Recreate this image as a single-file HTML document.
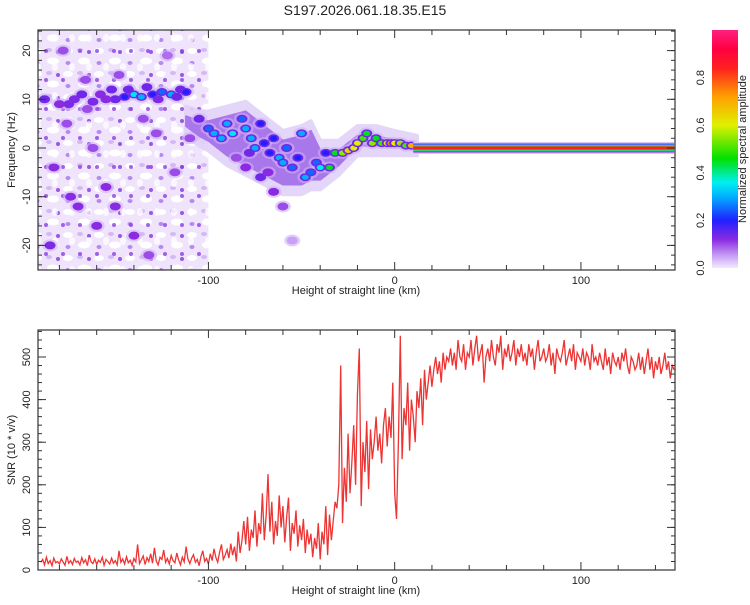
<!DOCTYPE html>
<html><head><meta charset="utf-8"><style>
body{margin:0;background:#fff;width:750px;height:600px;overflow:hidden;font-family:"Liberation Sans",sans-serif}
svg text{font-family:"Liberation Sans",sans-serif;fill:#222}
</style></head><body>
<svg id="c" width="750" height="600" viewBox="0 0 750 600">
<defs>
<pattern id="noise" width="31" height="23" patternUnits="userSpaceOnUse">
<rect width="31" height="23" fill="#efe4fc"/>
<ellipse cx="6" cy="5" rx="5" ry="3" fill="#fff"/><ellipse cx="22" cy="15" rx="6" ry="3.5" fill="#fff"/>
<ellipse cx="18" cy="4" rx="3" ry="2" fill="#d4b8f5"/><ellipse cx="6" cy="17" rx="2.5" ry="2" fill="#b58af0"/>
<ellipse cx="27" cy="6" rx="2" ry="2" fill="#9858e8"/>
</pattern>
<pattern id="noise2" width="17" height="29" patternUnits="userSpaceOnUse">
<ellipse cx="4" cy="9" rx="3" ry="4" fill="#fff" opacity="0.7"/><ellipse cx="12" cy="22" rx="2" ry="2" fill="#8a40e0" opacity="0.8"/>
</pattern>
<linearGradient id="cbar" x1="0" y1="1" x2="0" y2="0">
<stop offset="0" stop-color="#f3eafd"/><stop offset="0.05" stop-color="#c9a0f5"/><stop offset="0.12" stop-color="#8a2be2"/>
<stop offset="0.2" stop-color="#2020ff"/><stop offset="0.3" stop-color="#00b0ff"/><stop offset="0.36" stop-color="#00f0f0"/>
<stop offset="0.46" stop-color="#00e000"/><stop offset="0.6" stop-color="#e0f000"/><stop offset="0.72" stop-color="#ffa000"/>
<stop offset="0.84" stop-color="#ff2020"/><stop offset="0.92" stop-color="#ff0040"/><stop offset="1" stop-color="#ff2080"/>
</linearGradient>
<clipPath id="clipTop"><rect x="38" y="30" width="637" height="240"/></clipPath>
<clipPath id="clipBot"><rect x="38" y="330" width="637" height="240"/></clipPath>
</defs>
<text x="365" y="15" font-size="14" text-anchor="middle">S197.2026.061.18.35.E15</text>
<g id="topPanel"></g>
<g id="botPanel"></g>
<g id="cbPanel"></g>
</svg>
<script>
const NS="http://www.w3.org/2000/svg";
// ---- data ----
const snrStart=-190, snrStep=1;
const snrValues=[18,25,12,30,15,22,10,28,17,20,
14,26,19,11,32,16,22,13,27,18,
21,12,29,17,24,10,35,19,15,26,
13,23,18,30,11,25,20,14,28,16,
22,12,45,18,26,14,31,17,23,11,
27,19,60,15,24,33,13,29,20,38,
16,52,21,12,30,25,47,18,27,14,
34,22,17,40,24,12,30,19,55,26,
15,28,36,18,25,10,32,45,20,27,
14,38,22,50,29,18,42,60,25,35,
48,28,62,35,55,20,90,40,70,115,
60,125,45,95,75,140,55,110,85,180,
70,130,225,90,160,60,115,80,175,100,
150,65,125,170,45,110,85,140,55,105,
70,120,40,95,60,85,30,75,50,110,
25,90,60,150,35,130,70,115,160,145,
200,480,110,240,160,320,180,250,340,200,
410,520,150,300,230,350,190,330,260,300,
360,280,320,250,340,380,290,360,310,440,
180,120,300,550,260,380,340,440,280,400,
360,300,420,380,450,340,470,400,440,480,
430,470,500,460,490,440,510,470,500,490,
520,480,510,470,540,500,490,530,470,510,
500,540,480,520,550,490,510,530,440,500,
520,490,540,500,480,530,510,550,470,520,
500,530,490,510,540,480,520,500,530,490,
510,480,530,500,520,470,510,540,490,500,
520,490,500,530,480,510,460,520,500,490,
510,540,480,500,520,490,530,470,510,500,
490,520,480,510,500,470,530,490,500,480,
510,490,470,520,480,500,460,510,490,480,
500,470,510,490,520,480,460,500,490,470,
480,510,470,500,460,490,520,470,500,450,
490,470,500,460,480,510,470,490,450,480,470];
const blobKm=[-180,-172,-165,-158,-150,-145,-140,-136,-130,-125,-120,-115,-112,-170,-160,-185,-176,-155,-148,-128,-118,-183,-166,-140,-132,-122,-178,-150,-162,-135,-110,-174,
-188,-175,-168,-162,-155,-152,-143,-133,-127,-117,
-105,-100,-97,-93,-90,-87,-82,-80,-77,-75,-72,-70,-67,-65,-62,-60,-58,-55,-52,-50,-48,-45,-42,-40,-37,-35,-32,-28,-25,-22,-20,-17,-15,-12,-10,-7,-4,-2,0,3,6,9,
-85,-80,-72,-65,-60,-55,-78,-68];
const blobHz=[9,10,8,11,10,10.5,11,10.5,11,11.5,11,12,11.5,-12,-16,-20,5,-8,15,3,-5,-4,14,-18,-22,19,20,-12,0,6,2,-10,
10,9,11,9.5,10,12,12,12.5,10,10.5,
6,4,3,2,5,3,6,4,2,0,5,1,-1,2,-2,-3,0,-4,-2,3,-6,-5,-3,-4,-1,-4,-1,-1,-0.5,0,1,2,3,1,2,1,1,1,1,1,0.5,0.5,
-2,-4,-6,-9,-12,-19,-1,-5];
const blobAmp=[0.12,0.13,0.1,0.12,0.15,0.2,0.35,0.3,0.2,0.25,0.3,0.15,0.2,0.12,0.12,0.13,0.1,0.12,0.1,0.1,0.1,0.12,0.1,0.12,0.1,0.08,0.1,0.12,0.1,0.1,0.1,0.12,
0.14,0.13,0.14,0.13,0.12,0.14,0.15,0.15,0.13,0.14,
0.15,0.25,0.3,0.3,0.3,0.35,0.25,0.3,0.3,0.3,0.2,0.2,0.2,0.2,0.3,0.3,0.25,0.25,0.2,0.3,0.3,0.25,0.25,0.35,0.2,0.45,0.45,0.55,0.65,0.6,0.6,0.5,0.45,0.55,0.45,0.5,0.6,0.75,0.6,0.55,0.5,0.7,
0.1,0.12,0.15,0.12,0.1,0.05,0.15,0.12];
const ridgeKm=[-112,-105,-100,-90,-80,-70,-60,-50,-45,-40,-30,-20,-10,0,12];
const ridgeHi=[8,7,7,8,9,6,3,4,5,1,1,4,4,3,2];
const ridgeLo=[3,1,0,-3,-5,-7,-9,-9,-8,-8,-5,-1,-1,-1,-1];
const lineStartKm=10, lineEndKm=150, lineHz=0, lineAmp=0.85;
const xTicks=[-100,0,100];
const hzTicks=[-20,-10,0,10,20];
const snrTicks=[0,100,200,300,400,500];
const cbTicks=[0,0.2,0.4,0.6,0.8];
// ---- scales ----
const X0=-191.5,X1=150.5,PL=38,PR=675;
const xs=v=>PL+(v-X0)/(X1-X0)*(PR-PL);
const yHz=v=>148-v*4.87;
const ySnr=v=>570-v*0.426;
const cbY=v=>268-v*(268-30);
function el(tag,at,parent){const e=document.createElementNS(NS,tag);for(const k in at)e.setAttribute(k,at[k]);parent.appendChild(e);return e;}
const stops=[[0,[243,234,253]],[0.05,[201,160,245]],[0.12,[138,43,226]],[0.2,[32,32,255]],[0.3,[0,176,255]],[0.36,[0,240,240]],[0.46,[0,224,0]],[0.6,[224,240,0]],[0.72,[255,160,0]],[0.84,[255,32,32]],[0.92,[255,0,64]],[1,[255,32,128]]];
function cmap(a){a=Math.max(0,Math.min(1,a));for(let i=1;i<stops.length;i++){if(a<=stops[i][0]){const [p,c0]=stops[i-1],[q,c1]=stops[i];const t=(a-p)/(q-p);return 'rgb('+c0.map((c,j)=>Math.round(c+(c1[j]-c)*t)).join(',')+')';}}return 'rgb(255,32,128)';}
const topG=document.getElementById('topPanel'),botG=document.getElementById('botPanel'),cbG=document.getElementById('cbPanel');
// ---- top panel ----
const tg=el('g',{'clip-path':'url(#clipTop)'},topG);
const nz=el('rect',{x:PL,y:30,width:xs(-100)-PL,height:240,fill:'url(#noise)'},tg);


const nz2=el('rect',{x:PL,y:30,width:xs(-100)-PL,height:240,fill:'url(#noise2)'},tg);


function ridgePath(shrink){let d='';ridgeKm.forEach((k,i)=>{d+=(i?'L':'M')+xs(k)+','+yHz(ridgeHi[i]+(shrink?-1.5:0.5));});
for(let i=ridgeKm.length-1;i>=0;i--)d+='L'+xs(ridgeKm[i])+','+yHz(ridgeLo[i]+(shrink?1.5:-0.5));return d+'Z';}
const h1=el('path',{d:ridgePath(false),fill:'#e2d2f9','stroke':'#e2d2f9','stroke-width':4,'stroke-linejoin':'round',opacity:0.9},tg);


const h2=el('path',{d:ridgePath(true),fill:'#a877ea','stroke':'#a877ea','stroke-width':2,'stroke-linejoin':'round'},tg);


blobKm.forEach((k,i)=>{const e=el('ellipse',{cx:xs(k),cy:yHz(blobHz[i]),rx:8,ry:6,fill:'#cfb0f5',opacity:0.6},tg);

});
blobKm.forEach((k,i)=>{const a=blobAmp[i];
const m=el('ellipse',{cx:xs(k),cy:yHz(blobHz[i]),rx:5.5,ry:4,fill:cmap(Math.min(a,0.14))},tg);


if(a>0.18){const c=el('ellipse',{cx:xs(k),cy:yHz(blobHz[i]),rx:3.5,ry:2.6,fill:cmap(a)},tg);

}});
[[6,'#dcc8f8'],[4.5,'#7a20e0'],[3.5,'#10c0ff'],[2.6,'#40e020'],[1.6,'#ff2020']].forEach(([h,c],i)=>{
const r=el('rect',{x:xs(lineStartKm),y:yHz(lineHz)-h,width:xs(lineEndKm)-xs(lineStartKm),height:2*h,fill:i==4?cmap(lineAmp):c},tg);

});
function frame(g,y0,y1,yticks,yfn,ymin,ymax,ytitle,minorStep){
const f=el('rect',{x:PL,y:y0,width:PR-PL,height:y1-y0,fill:'none',stroke:'#333','stroke-width':1.2},g);


for(let k=-180;k<=150;k+=20){const maj=k%100==0;const x=xs(k);const L=maj?8:5;
el('line',{x1:x,y1:y0,x2:x,y2:y0+L,stroke:'#333'},g);el('line',{x1:x,y1:y1,x2:x,y2:y1-L,stroke:'#333'},g);}
xTicks.forEach(v=>{const t=el('text',{x:xs(v),y:y1+14,'font-size':11,'text-anchor':'middle'},g);t.textContent=v;

});
const xt=el('text',{x:356,y:y1+24,'font-size':11,'text-anchor':'middle'},g);xt.textContent='Height of straight line (km)';


for(let v=ymin;v<=ymax;v+=minorStep){const y=yfn(v);if(y<y0||y>y1)continue;
el('line',{x1:PL,y1:y,x2:PL+4,y2:y,stroke:'#333'},g);el('line',{x1:PR,y1:y,x2:PR-4,y2:y,stroke:'#333'},g);}
yticks.forEach(v=>{const y=yfn(v);el('line',{x1:PL,y1:y,x2:PL+8,y2:y,stroke:'#333'},g);el('line',{x1:PR,y1:y,x2:PR-8,y2:y,stroke:'#333'},g);
const t=el('text',{x:30,y:y,'font-size':11,'text-anchor':'middle',transform:'rotate(-90 30 '+y+')'},g);t.textContent=v;

});
const yt=el('text',{x:15,y:(y0+y1)/2,'font-size':11,'text-anchor':'middle',transform:'rotate(-90 15 '+(y0+y1)/2+')'},g);yt.textContent=ytitle;

}
frame(topG,30,270,hzTicks,yHz,-24,24,'Frequency (Hz)',2);
// ---- bottom panel ----
const bg=el('g',{'clip-path':'url(#clipBot)'},botG);
const pts=snrValues.map((v,i)=>xs(snrStart+i*snrStep).toFixed(1)+','+ySnr(v).toFixed(1)).join(' ');
const pl=el('polyline',{points:pts,fill:'none',stroke:'#ee3333','stroke-width':1.3},bg);


frame(botG,330,570,snrTicks,ySnr,0,560,'SNR (10 * v/v)',20);
// ---- colorbar ----
const cr=el('rect',{x:712,y:30,width:26,height:238,fill:'url(#cbar)'},cbG);


cbTicks.forEach(v=>{const y=cbY(v);const t=el('text',{x:704,y:y,'font-size':11,'text-anchor':'middle',transform:'rotate(-90 704 '+y+')'},cbG);t.textContent=v.toFixed(1);

});
const ct=el('text',{x:746,y:149,'font-size':11,'text-anchor':'middle',transform:'rotate(-90 746 149)'},cbG);ct.textContent='Normalized spectral amplitude';


</script>
</body></html>
